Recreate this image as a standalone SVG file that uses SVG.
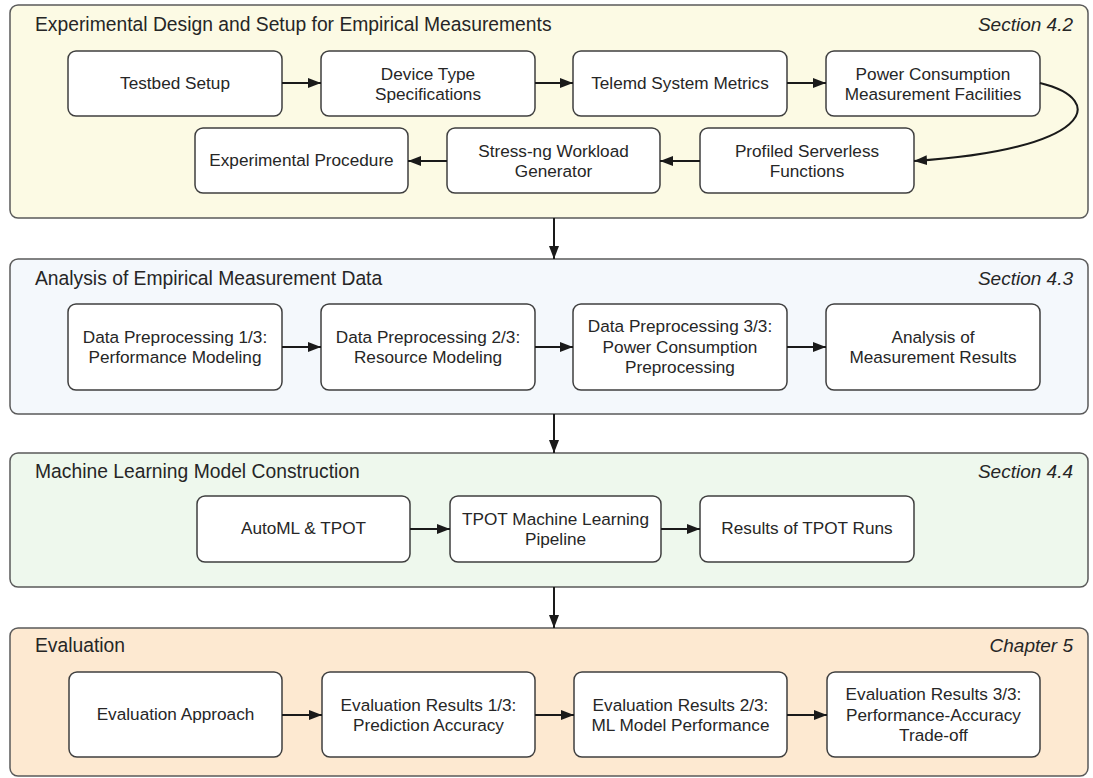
<svg xmlns="http://www.w3.org/2000/svg" width="1093" height="778" viewBox="0 0 1093 778">
<defs>
<style>
.panel{stroke:#5a5a5a;stroke-width:1.5}
.node{fill:#ffffff;stroke:#3f3f3f;stroke-width:1.5}
.t{font-family:"Liberation Sans",Arial,sans-serif;font-size:17.2px;fill:#262626;text-anchor:middle}
.title{font-family:"Liberation Sans",Arial,sans-serif;font-size:19.3px;fill:#262626}
.sec{font-family:"Liberation Sans",Arial,sans-serif;font-size:19px;fill:#262626;font-style:italic;text-anchor:end}
.c{fill:none;stroke:#1a1a1a;stroke-width:2;marker-end:url(#ah)}
</style>
<marker id="ah" markerUnits="userSpaceOnUse" markerWidth="14" markerHeight="11" refX="13" refY="5" orient="auto">
<path d="M0,0 L13,5 L0,10 z" fill="#1a1a1a"/>
</marker>
</defs>
<rect width="1093" height="778" fill="#ffffff"/>

<g id="panel1">
<rect class="panel" x="10" y="5" width="1078" height="213" rx="8" fill="#fcfae4"/>
<text class="title" x="35" y="31">Experimental Design and Setup for Empirical Measurements</text>
<text class="sec" x="1073" y="31">Section 4.2</text>
</g>
<g id="panel2">
<rect class="panel" x="10" y="259" width="1078" height="155" rx="8" fill="#f4f8fc"/>
<text class="title" x="35" y="285">Analysis of Empirical Measurement Data</text>
<text class="sec" x="1073" y="285">Section 4.3</text>
</g>
<g id="panel3">
<rect class="panel" x="10" y="453" width="1078" height="134" rx="8" fill="#eef8ed"/>
<text class="title" x="35" y="478">Machine Learning Model Construction</text>
<text class="sec" x="1073" y="478">Section 4.4</text>
</g>
<g id="panel4">
<rect class="panel" x="10" y="628" width="1078" height="148" rx="8" fill="#fde9d1"/>
<text class="title" x="35" y="652">Evaluation</text>
<text class="sec" x="1073" y="652">Chapter 5</text>
</g>

<g id="n-testbed"><rect class="node" x="68" y="51" width="214" height="65" rx="8"/><text class="t" x="175" y="89">Testbed Setup</text></g>
<g id="n-device"><rect class="node" x="321" y="51" width="214" height="65" rx="8"/><text class="t" x="428" y="80">Device Type</text><text class="t" x="428" y="100">Specifications</text></g>
<g id="n-telemd"><rect class="node" x="573" y="51" width="214" height="65" rx="8"/><text class="t" x="680" y="89">Telemd System Metrics</text></g>
<g id="n-power"><rect class="node" x="826" y="51" width="214" height="65" rx="8"/><text class="t" x="933" y="80">Power Consumption</text><text class="t" x="933" y="100">Measurement Facilities</text></g>
<g id="n-expproc"><rect class="node" x="195" y="128" width="213" height="65" rx="8"/><text class="t" x="301.5" y="166">Experimental Procedure</text></g>
<g id="n-stress"><rect class="node" x="447" y="128" width="213" height="65" rx="8"/><text class="t" x="553.5" y="157">Stress-ng Workload</text><text class="t" x="553.5" y="177">Generator</text></g>
<g id="n-profiled"><rect class="node" x="700" y="128" width="214" height="65" rx="8"/><text class="t" x="807" y="157">Profiled Serverless</text><text class="t" x="807" y="177">Functions</text></g>

<g id="n-dp1"><rect class="node" x="68" y="304" width="214" height="86" rx="8"/><text class="t" x="175" y="343">Data Preprocessing 1/3:</text><text class="t" x="175" y="363">Performance Modeling</text></g>
<g id="n-dp2"><rect class="node" x="321" y="304" width="214" height="86" rx="8"/><text class="t" x="428" y="343">Data Preprocessing 2/3:</text><text class="t" x="428" y="363">Resource Modeling</text></g>
<g id="n-dp3"><rect class="node" x="573" y="304" width="214" height="86" rx="8"/><text class="t" x="680" y="332">Data Preprocessing 3/3:</text><text class="t" x="680" y="353">Power Consumption</text><text class="t" x="680" y="373">Preprocessing</text></g>
<g id="n-analysis"><rect class="node" x="826" y="304" width="214" height="86" rx="8"/><text class="t" x="933" y="343">Analysis of</text><text class="t" x="933" y="363">Measurement Results</text></g>

<g id="n-automl"><rect class="node" x="197" y="496" width="213" height="66" rx="8"/><text class="t" x="303.5" y="534">AutoML &amp; TPOT</text></g>
<g id="n-tpotpipe"><rect class="node" x="450" y="496" width="211" height="66" rx="8"/><text class="t" x="555.5" y="525">TPOT Machine Learning</text><text class="t" x="555.5" y="545">Pipeline</text></g>
<g id="n-tpotres"><rect class="node" x="700" y="496" width="214" height="66" rx="8"/><text class="t" x="807" y="534">Results of TPOT Runs</text></g>

<g id="n-evalapp"><rect class="node" x="69" y="672" width="213" height="85" rx="8"/><text class="t" x="175.5" y="720">Evaluation Approach</text></g>
<g id="n-eval1"><rect class="node" x="322" y="672" width="213" height="85" rx="8"/><text class="t" x="428.5" y="711">Evaluation Results 1/3:</text><text class="t" x="428.5" y="731">Prediction Accuracy</text></g>
<g id="n-eval2"><rect class="node" x="574" y="672" width="213" height="85" rx="8"/><text class="t" x="680.5" y="711">Evaluation Results 2/3:</text><text class="t" x="680.5" y="731">ML Model Performance</text></g>
<g id="n-eval3"><rect class="node" x="827" y="672" width="213" height="85" rx="8"/><text class="t" x="933.5" y="700">Evaluation Results 3/3:</text><text class="t" x="933.5" y="721">Performance-Accuracy</text><text class="t" x="933.5" y="741">Trade-off</text></g>

<g id="connectors">
<path class="c" d="M282,83 L321,83"/>
<path class="c" d="M535,83 L573,83"/>
<path class="c" d="M787,83 L826,83"/>
<path class="c" d="M1040,83 C1110,100 1090,150 914,161"/>
<path class="c" d="M700,161 L660,161"/>
<path class="c" d="M447,161 L408,161"/>
<path class="c" d="M554,218 L554,259"/>
<path class="c" d="M282,347 L321,347"/>
<path class="c" d="M535,347 L573,347"/>
<path class="c" d="M787,347 L826,347"/>
<path class="c" d="M554,414 L554,453"/>
<path class="c" d="M410,529 L450,529"/>
<path class="c" d="M661,529 L700,529"/>
<path class="c" d="M554,587 L554,628"/>
<path class="c" d="M282,715 L322,715"/>
<path class="c" d="M535,715 L574,715"/>
<path class="c" d="M787,715 L827,715"/>
</g>
</svg>
